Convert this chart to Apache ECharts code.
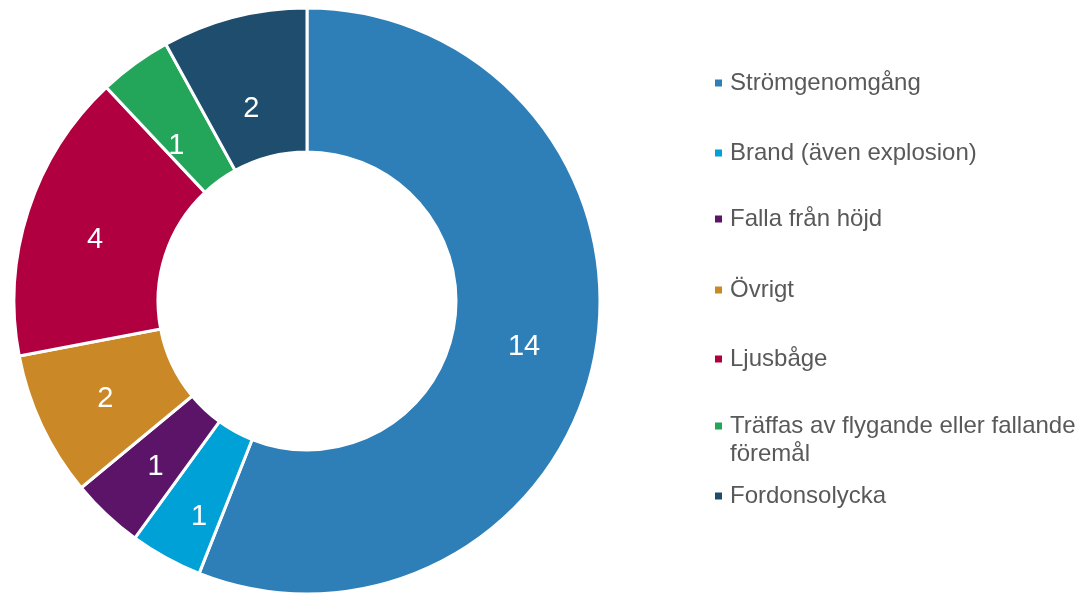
<!DOCTYPE html>
<html>
<head>
<meta charset="utf-8">
<script src="https://cdn.jsdelivr.net/npm/echarts@6/dist/echarts.min.js"></script>
<style>
html,body{margin:0;padding:0;background:#fff;}
#chart{width:1080px;height:593px;}
</style>
</head>
<body>
<div id="chart"></div>
<script>
const categories = ['Strömgenomgång','Brand (även explosion)','Falla från höjd','Övrigt','Ljusbåge','Träffas av flygande eller fallande föremål','Fordonsolycka'];
const values = [14, 1, 1, 2, 4, 1, 2];
const colors = ['#2E7FB8','#00A1D6','#5C1468','#CB8826','#B0003F','#23A55A','#1E4D6E'];
const legendBreaks = {'Träffas av flygande eller fallande föremål':'Träffas av flygande eller fallande\nföremål'};

// styling: legend row tops and small label nudges (pixels)
const legendTops = [64, 134, 200, 271, 340, 407, 477];
const labelNudges = [[-3, 4], [0, 20], [2, 3], [1, 3], [1, 8], [1, 26], [0, 25]];
const font = '"Liberation Sans", Arial, sans-serif';
// a square marker aligned with the first line of a two-line legend entry
const topSquareIcon = 'path://M0,0L7,0L7,7L0,7Z M0,35L0.01,35L0.01,34.99Z';

const legends = categories.map((c, i) => {
  const twoLine = !!legendBreaks[c];
  return {
    data: [c],
    orient: 'vertical',
    left: 710,
    top: legendTops[i],
    icon: twoLine ? topSquareIcon : 'rect',
    itemWidth: 7,
    itemHeight: twoLine ? 35 : 7,
    itemGap: 0,
    selectedMode: false,
    itemStyle: {borderWidth: 0},
    formatter: n => legendBreaks[n] || n,
    textStyle: {fontFamily: font, fontSize: 24, color: '#595959', lineHeight: 28, padding: [0,0,0,3]}
  };
});

const chart = echarts.init(document.getElementById('chart'), null, {renderer: 'canvas'});
chart.setOption({
  animation: false,
  color: colors,
  legend: legends,
  series: [{
    type: 'pie',
    center: [307, 301],
    radius: [149, 293],
    startAngle: 90,
    clockwise: true,
    avoidLabelOverlap: false,
    itemStyle: {borderColor: '#fff', borderWidth: 3},
    label: {show: true, position: 'inside', formatter: '{c}', color: '#fff', fontSize: 29, fontFamily: font},
    labelLine: {show: false},
    emphasis: {disabled: true},
    data: categories.map((c, i) => ({name: c, value: values[i], label: {offset: labelNudges[i]}}))
  }]
});
</script>
</body>
</html>
